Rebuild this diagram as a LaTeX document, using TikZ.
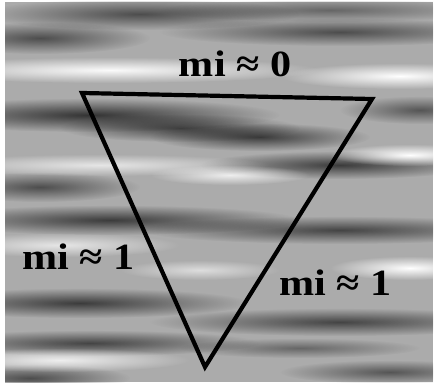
\documentclass[tikz,border=0pt]{standalone}
\usepackage{fontspec}
\setmainfont{Liberation Serif}
\usetikzlibrary{fadings}

\tikzfading[name=blobfade, inner color=transparent!0, outer color=transparent!100]
\tikzset{
  darkblob/.style={fill=black, opacity=#1, path fading=blobfade},
  lightblob/.style={fill=white, opacity=#1, path fading=blobfade},
  milabel/.style={font=\fontsize{37}{40}\selectfont\bfseries, inner sep=0pt, xscale=1.14}
}

\begin{document}
\begin{tikzpicture}[x=1pt,y=-1pt]
\useasboundingbox (0,0) rectangle (435,387);
\begin{scope}
\clip (5,2) rectangle (433,382);
\fill[black!33] (5,2) rectangle (433,382);
% dark streaks
\fill[darkblob=0.55] (140,14) ellipse [x radius=160,y radius=16];
\fill[darkblob=0.4] (330,10) ellipse [x radius=170,y radius=12];
\fill[darkblob=0.55] (40,38) ellipse [x radius=110,y radius=16];
\fill[darkblob=0.55] (340,32) ellipse [x radius=180,y radius=14];
\fill[darkblob=0.7] (90,115) ellipse [x radius=190,y radius=17];
\fill[darkblob=0.6] (180,128) ellipse [x radius=120,y radius=14];
\fill[darkblob=0.65] (260,137) ellipse [x radius=110,y radius=14];
\fill[darkblob=0.5] (420,110) ellipse [x radius=80,y radius=14];
\fill[darkblob=0.65] (340,165) ellipse [x radius=140,y radius=14];
\fill[darkblob=0.55] (40,187) ellipse [x radius=100,y radius=15];
\fill[darkblob=0.65] (110,220) ellipse [x radius=190,y radius=15];
\fill[darkblob=0.6] (340,230) ellipse [x radius=200,y radius=14];
\fill[darkblob=0.65] (80,303) ellipse [x radius=170,y radius=15];
\fill[darkblob=0.6] (340,322) ellipse [x radius=190,y radius=14];
\fill[darkblob=0.6] (90,343) ellipse [x radius=170,y radius=13];
\fill[darkblob=0.4] (300,348) ellipse [x radius=120,y radius=10];
\fill[darkblob=0.55] (30,378) ellipse [x radius=100,y radius=14];
\fill[darkblob=0.5] (390,372) ellipse [x radius=110,y radius=12];
% light streaks
\fill[lightblob=0.95] (110,70) ellipse [x radius=210,y radius=13];
\fill[lightblob=1] (400,76) ellipse [x radius=120,y radius=13];
\fill[lightblob=1] (410,155) ellipse [x radius=80,y radius=11];
\fill[lightblob=0.7] (100,165) ellipse [x radius=170,y radius=11];
\fill[lightblob=0.8] (230,175) ellipse [x radius=80,y radius=10];
\fill[lightblob=0.7] (60,245) ellipse [x radius=120,y radius=12];
\fill[lightblob=1] (410,268) ellipse [x radius=80,y radius=12];
\fill[lightblob=0.6] (200,270) ellipse [x radius=80,y radius=10];
\fill[lightblob=0.8] (60,360) ellipse [x radius=130,y radius=12];
\end{scope}
% triangle
\coordinate (topleft) at (82,93);
\coordinate (topright) at (372,99);
\coordinate (bottom) at (205,367);
\draw[line width=4.2pt] (topleft) -- (topright) -- (bottom) -- cycle;
\node[milabel, anchor=base] (mizero) at (235,77) {mi ≈ 0};
\node[milabel, anchor=base west] (mileft) at (22,269) {mi ≈ 1};
\node[milabel, anchor=base west] (miright) at (279,295) {mi ≈ 1};
\end{tikzpicture}
\end{document}
